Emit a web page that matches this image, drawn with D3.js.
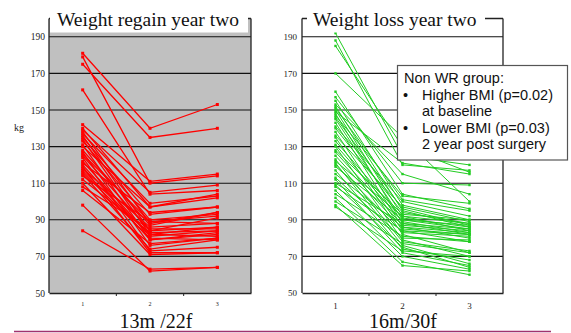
<!DOCTYPE html>
<html>
<head>
<meta charset="utf-8">
<script src="https://cdn.jsdelivr.net/npm/d3@7"></script>
<style>
  body { margin: 0; background: #fff; }
  svg { display: block; }
</style>
</head>
<body>
<div id="chart"></div>
<script>
// données
const categories = ["1", "2", "3"];
const yTicks = [50, 70, 90, 110, 130, 150, 170, 190];

// weight regain group (13m / 22f)
const regainW1 = [181, 179, 175, 161, 142, 140, 139, 138, 137, 136, 135, 134, 133, 131, 130, 128, 127, 126, 125, 124, 122, 121, 120, 119, 118, 117, 116, 115, 114, 112, 110, 108, 106, 98, 84];
const regainW2 = [140, 110, 135, 104, 111, 97, 105, 88, 99, 84, 93, 82, 90, 79, 97, 87, 76, 89, 84, 73, 81, 94, 79, 72, 86, 82, 80, 74, 89, 83, 71, 85, 77, 62, 63];
const regainW3 = [153, 114, 140, 106, 115, 104, 109, 94, 103, 91, 97, 86, 93, 83, 102, 94, 80, 88, 86, 75, 84, 97, 82, 72, 88, 81, 79, 79, 92, 84, 72, 85, 80, 64, 64];

// weight loss group (16m / 30f)
const lossW1 = [192, 188, 185, 170, 160, 157, 155, 153, 152, 151, 150, 149, 148, 147, 146, 145, 143, 141, 140, 138, 136, 135, 133, 131, 130, 128, 127, 125, 123, 122, 121, 120, 119, 117, 115, 113, 112, 110, 109, 108, 106, 104, 102, 100, 98, 97];
const lossW2 = [125, 120, 130, 135, 104, 110, 98, 115, 95, 101, 92, 121, 88, 103, 96, 90, 86, 100, 94, 84, 97, 82, 91, 89, 79, 93, 87, 85, 78, 92, 76, 83, 90, 74, 86, 80, 72, 88, 75, 84, 70, 81, 67, 77, 65, 73];
const lossW3 = [120, 117, 116, 100, 96, 109, 90, 104, 86, 95, 84, 115, 82, 99, 87, 85, 80, 92, 88, 78, 89, 72, 86, 83, 70, 90, 84, 82, 73, 88, 66, 81, 87, 68, 83, 79, 65, 85, 64, 82, 63, 78, 60, 72, 62, 70];

const legendLines = [
    { bullet: false, text: "Non WR group:" },
    { bullet: true, text: "Higher BMI (p=0.02)" },
    { bullet: false, text: "at baseline" },
    { bullet: true, text: "Lower BMI (p=0.03)" },
    { bullet: false, text: "2 year post surgery" }
];

const width = 571, height = 333;
const serif = "'Liberation Serif', 'Times New Roman', serif";
const sans = "'Liberation Sans', Arial, sans-serif";

const svg = d3.select("#chart").append("svg")
    .attr("width", width)
    .attr("height", height);

const y = d3.scaleLinear()
    .domain([50, 200])
    .range([293, 18.5]);

function drawPanel(p) {
    const x = d3.scaleBand()
        .domain(categories)
        .range([p.left, p.right])
        .padding(0);

    const g = svg.append("g");

    // fond
    g.append("rect")
        .attr("x", p.left).attr("y", y(200))
        .attr("width", p.right - p.left).attr("height", y(50) - y(200))
        .attr("fill", p.bg);

    // grille
    g.selectAll(".grid")
        .data(yTicks.filter(d => d > 50))
        .enter().append("line")
        .attr("x1", p.left).attr("x2", p.right)
        .attr("y1", d => y(d)).attr("y2", d => y(d))
        .attr("stroke", "#111")
        .attr("stroke-width", 1.1);

    // lignes des patients
    const line = d3.line()
        .x(d => x(d[0]) + x.bandwidth() / 2)
        .y(d => y(d[1]));

    const subjects = p.w1.map((v, i) => [
        [categories[0], v],
        [categories[1], p.w2[i]],
        [categories[2], p.w3[i]]
    ]);

    g.selectAll(".subject")
        .data(subjects)
        .enter().append("path")
        .attr("d", line)
        .attr("fill", "none")
        .attr("stroke", p.color)
        .attr("stroke-width", p.lineWidth);

    g.selectAll(".marker")
        .data(subjects.flat())
        .enter().append("rect")
        .attr("x", d => x(d[0]) + x.bandwidth() / 2 - p.marker / 2)
        .attr("y", d => y(d[1]) - p.marker / 2)
        .attr("width", p.marker)
        .attr("height", p.marker)
        .attr("fill", p.color);

    // cadre
    const frame = "#222";
    g.append("line").attr("x1", p.left).attr("x2", p.left)
        .attr("y1", y(200)).attr("y2", y(50)).attr("stroke", frame).attr("stroke-width", 1.3);
    g.append("line").attr("x1", p.right).attr("x2", p.right)
        .attr("y1", y(200)).attr("y2", y(50)).attr("stroke", frame).attr("stroke-width", 1.3);
    g.append("line").attr("x1", p.left).attr("x2", p.right)
        .attr("y1", y(200)).attr("y2", y(200)).attr("stroke", frame).attr("stroke-width", 1.3);

    // axe y
    const yAxis = g.append("g")
        .attr("transform", "translate(" + p.left + ",0)")
        .call(d3.axisLeft(y).tickValues(yTicks).tickSize(0).tickPadding(p.yPad));
    yAxis.select(".domain").remove();
    yAxis.selectAll("text")
        .attr("font-family", serif)
        .attr("font-size", p.yFont)
        .attr("fill", "#222");

    // axe x
    const xAxis = g.append("g")
        .attr("transform", "translate(0," + y(50) + ")")
        .call(d3.axisBottom(x).tickSize(0).tickPadding(p.xPad));
    xAxis.select(".domain")
        .attr("stroke", frame).attr("stroke-width", 1.3);
    xAxis.selectAll("text")
        .attr("font-family", serif)
        .attr("font-size", p.xFont)
        .attr("fill", "#222");
    // petites graduations entre les catégories
    g.selectAll(".xtick")
        .data(categories.slice(1))
        .enter().append("line")
        .attr("x1", d => x(d)).attr("x2", d => x(d))
        .attr("y1", y(50)).attr("y2", y(50) + 3)
        .attr("stroke", frame);

    // titre
    g.append("rect")
        .attr("x", p.titleBox[0]).attr("y", 8)
        .attr("width", p.titleBox[1] - p.titleBox[0]).attr("height", 24.5)
        .attr("fill", "#fff");
    g.append("text")
        .attr("x", p.titleX).attr("y", 25.5)
        .attr("font-family", serif)
        .attr("font-size", 19.5)
        .attr("fill", "#111")
        .text(p.title);

    // sous-titre
    g.append("text")
        .attr("x", p.subX).attr("y", 328)
        .attr("text-anchor", "middle")
        .attr("font-family", serif)
        .attr("font-size", 20)
        .attr("fill", "#111")
        .text(p.sub);
}

drawPanel({
    left: 49, right: 251, bg: "#c0c0c0", color: "#ff0000",
    lineWidth: 1.3, marker: 3,
    w1: regainW1, w2: regainW2, w3: regainW3,
    title: "Weight regain year two", titleX: 57, titleBox: [50, 248],
    sub: "13m /22f", subX: 156,
    yFont: 9.5, yPad: 4, xFont: 6, xPad: 9
});

drawPanel({
    left: 302, right: 503, bg: "#fff", color: "#22cc22",
    lineWidth: 1, marker: 2.4,
    w1: lossW1, w2: lossW2, w3: lossW3,
    title: "Weight loss year two", titleX: 313, titleBox: [307, 485],
    sub: "16m/30f", subX: 403,
    yFont: 9, yPad: 5, xFont: 9, xPad: 10
});

// étiquette kg
svg.append("text")
    .attr("x", 19).attr("y", 131)
    .attr("text-anchor", "middle")
    .attr("font-family", serif)
    .attr("font-size", 10)
    .attr("fill", "#222")
    .text("kg");

// légende
const legend = svg.append("g");
legend.append("rect")
    .attr("x", 397.5).attr("y", 65.5)
    .attr("width", 170).attr("height", 94.5)
    .attr("fill", "#fff")
    .attr("stroke", "#555")
    .attr("stroke-width", 1.2);

legendLines.forEach((d, i) => {
    const yy = 83 + i * 16.6;
    if (d.bullet) {
        legend.append("text")
            .attr("x", 403).attr("y", yy)
            .attr("font-family", sans).attr("font-size", 14.5)
            .attr("fill", "#111")
            .text("•");
    }
    legend.append("text")
        .attr("x", i === 0 ? 404 : 422).attr("y", yy)
        .attr("font-family", sans).attr("font-size", 14.5)
        .attr("fill", "#111")
        .text(d.text);
});

// ligne violette du bas
svg.append("line")
    .attr("x1", 14).attr("x2", 551)
    .attr("y1", 331.5).attr("y2", 331.5)
    .attr("stroke", "#a0336e")
    .attr("stroke-width", 1.5);
</script>
</body>
</html>
